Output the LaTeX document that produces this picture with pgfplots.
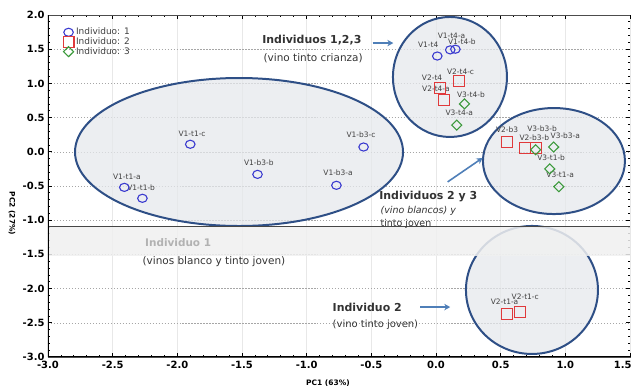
\documentclass[border=0pt]{standalone}
\usepackage{fontspec}
\setmainfont{Liberation Sans}
\newfontfamily\annfont{DejaVu Sans}
\usepackage{pgfplots}
\pgfplotsset{compat=1.18}
\usetikzlibrary{arrows.meta}
\definecolor{ellb}{HTML}{2E4F86}
\definecolor{ellf}{HTML}{E6E8EC}
\definecolor{ind1}{HTML}{3A3ACF}
\definecolor{ind2}{HTML}{E0393B}
\definecolor{ind3}{HTML}{3C9A3C}
\definecolor{arrowc}{HTML}{4F7FB8}
\definecolor{lbl}{HTML}{404040}
\begin{document}
\begin{tikzpicture}
\useasboundingbox (-48bp,-33bp) rectangle (588bp,357bp);
\begin{axis}[
  scale only axis, width=582bp, height=342bp,
  xmin=-3, xmax=1.5, ymin=-3, ymax=2,
  xtick={-3,-2.5,...,1.0}, ytick={-3,-2.5,...,2},
  extra x ticks={1.5},
  extra x tick style={xticklabel style={anchor=north east, xshift=5bp}},
  minor x tick num=4, minor y tick num=4,
  tick align=inside,
  major tick length=4bp, minor tick length=2bp,
  every tick/.style={black, line width=0.8pt},
  ymajorgrids, xmajorgrids,
  y grid style={dash pattern=on 1.5pt off 1.5pt, gray!70, line width=0.5pt},
  x grid style={gray!18, line width=0.6pt},
  axis line style={gray!60!black, line width=1pt},
  /pgf/number format/fixed, /pgf/number format/fixed zerofill,
  /pgf/number format/precision=1, /pgf/number format/assume math mode=true,
  xticklabel={\annfont\bfseries\fontsize{10}{10}\selectfont\pgfmathprintnumber{\tick}},
  yticklabel={\annfont\bfseries\fontsize{10}{10}\selectfont\pgfmathprintnumber{\tick}},
  xticklabel style={yshift=-1bp},
  xlabel={PC1 (63\%)}, ylabel={PC2 (27\%)},
  every axis x label/.style={at={(axis description cs:0.481,-0.076)}, anchor=center, font=\annfont\bfseries\fontsize{7.5}{8}\selectfont},
  every axis y label/.style={at={(axis description cs:-0.062,0.42)}, rotate=-90, anchor=center, font=\annfont\bfseries\fontsize{7.5}{8}\selectfont},
  legend style={at={(axis cs:-2.885,1.84)}, anchor=north west, draw=none, fill=none,
    font=\annfont\fontsize{9}{9}\selectfont, text=lbl, row sep=-2.6pt, inner sep=0pt},
]
% ellipses
\draw[ellb, line width=2pt, fill=ellf, fill opacity=0.75] (axis cs:-1.523,-0.003) ellipse [x radius=164bp, y radius=74bp];
\draw[ellb, line width=2pt, fill=ellf, fill opacity=0.75] (axis cs:0.108,1.094) ellipse [x radius=57bp, y radius=60bp];
\draw[ellb, line width=2pt, fill=ellf, fill opacity=0.75] (axis cs:0.912,-0.135) ellipse [x radius=71bp, y radius=53bp];
\draw[ellb, line width=2pt, fill=ellf, fill opacity=0.75] (axis cs:0.742,-2.02) ellipse [x radius=66bp, y radius=64bp];
% band
\fill[gray!12, fill opacity=0.85] (rel axis cs:0,0.295) rectangle (rel axis cs:1,0.383);
\draw[gray!55!black, line width=0.8pt] (rel axis cs:0,0.383) -- (rel axis cs:1,0.383);

\addplot[only marks, mark=o, mark size=4.8pt, mark options={draw=ind1, line width=1.1pt, yscale=0.85}] coordinates {
 (-1.90,0.11) (-2.41,-0.52) (-2.27,-0.68) (-1.38,-0.33) (-0.77,-0.49) (-0.56,0.07)
 (0.01,1.40) (0.11,1.49) (0.15,1.50)
};
\addlegendentry{Individuo: 1}
\addplot[only marks, mark=square, mark size=5.5pt, mark options={draw=ind2, line width=1.1pt}] coordinates {
 (0.18,1.03) (0.03,0.93) (0.06,0.76) (0.55,0.14) (0.69,0.05) (0.77,0.05)
 (0.55,-2.37) (0.65,-2.34)
};
\addlegendentry{Individuo: 2}
\addplot[only marks, mark=diamond, mark size=5pt, mark options={draw=ind3, line width=1.1pt, xscale=1.35}] coordinates {
 (0.22,0.70) (0.16,0.39) (0.77,0.03) (0.91,0.07) (0.88,-0.25) (0.95,-0.51)
};
\addlegendentry{Individuo: 3}

% point labels
\begin{scope}[every node/.style={font=\annfont\fontsize{7.5}{7.5}\selectfont, text=lbl, inner sep=0pt}]
\node at (axis cs:-1.886,0.26) {V1-t1-c};
\node at (axis cs:-2.39,-0.37) {V1-t1-a};
\node at (axis cs:-2.28,-0.52) {V1-t1-b};
\node at (axis cs:-1.37,-0.16) {V1-b3-b};
\node at (axis cs:-0.757,-0.31) {V1-b3-a};
\node at (axis cs:-0.58,0.245) {V1-b3-c};
\node at (axis cs:-0.06,1.57) {V1-t4};
\node at (axis cs:0.12,1.70) {V1-t4-a};
\node at (axis cs:0.20,1.61) {V1-t4-b};
\node at (axis cs:0.19,1.17) {V2-t4-c};
\node at (axis cs:-0.03,1.08) {V2-t4};
\node at (axis cs:0.00,0.92) {V2-t4-a};
\node at (axis cs:0.27,0.84) {V3-t4-b};
\node at (axis cs:0.18,0.57) {V3-t4-a};
\node at (axis cs:0.55,0.33) {V2-b3};
\node at (axis cs:0.82,0.34) {V3-b3-b};
\node at (axis cs:0.76,0.21) {V2-b3-b};
\node at (axis cs:1.00,0.23) {V3-b3-a};
\node at (axis cs:0.89,-0.08) {V3-t1-b};
\node at (axis cs:0.96,-0.34) {V3-t1-a};
\node at (axis cs:0.53,-2.19) {V2-t1-a};
\node at (axis cs:0.69,-2.12) {V2-t1-c};
\end{scope}

% annotations
\begin{scope}[every node/.style={text=black!80, inner sep=0pt}]
\node[font=\annfont\bfseries\fontsize{11}{12}\selectfont] at (axis cs:-0.96,1.635) {Individuos 1,2,3};
\node[font=\annfont\fontsize{10.5}{12}\selectfont] at (axis cs:-0.95,1.37) {(vino tinto crianza)};
\node[font=\annfont\bfseries\fontsize{11}{12}\selectfont, anchor=west] at (axis cs:-0.44,-0.66) {Individuos 2 y 3};
\node[font=\annfont\itshape\fontsize{9.5}{10}\selectfont, anchor=west] at (axis cs:-0.43,-0.865) {(vino blancos) y};
\node[font=\annfont\fontsize{9.5}{10}\selectfont, anchor=west] at (axis cs:-0.43,-1.05) {tinto joven};
\node[font=\annfont\bfseries\fontsize{10.5}{12}\selectfont, anchor=west, text=gray!60] at (axis cs:-2.25,-1.33) {Individuo 1};
\node[font=\annfont\fontsize{10.5}{12}\selectfont, anchor=west] at (axis cs:-2.27,-1.6) {(vinos blanco y tinto joven)};
\node[font=\annfont\bfseries\fontsize{11}{12}\selectfont, anchor=west] at (axis cs:-0.80,-2.28) {Individuo 2};
\node[font=\annfont\fontsize{10}{12}\selectfont, anchor=west] at (axis cs:-0.80,-2.53) {(vino tinto joven)};
\end{scope}
\draw[arrowc, line width=1.6pt, -{Stealth[length=6pt,width=6.5pt]}] (axis cs:-0.49,1.59) -- (axis cs:-0.33,1.59);
\draw[arrowc, line width=1.6pt, -{Stealth[length=6pt,width=6.5pt]}] (axis cs:0.09,-0.44) -- (axis cs:0.36,-0.09);
\draw[arrowc, line width=1.6pt, -{Stealth[length=6pt,width=6.5pt]}] (axis cs:-0.12,-2.27) -- (axis cs:0.11,-2.27);

% heavy frame lines
\draw[black, line width=2.2pt] (rel axis cs:0,0) -- (rel axis cs:1,0);
\draw[black, line width=1.6pt] (rel axis cs:0,0) -- (rel axis cs:0,1);
\end{axis}
\end{tikzpicture}
\end{document}
